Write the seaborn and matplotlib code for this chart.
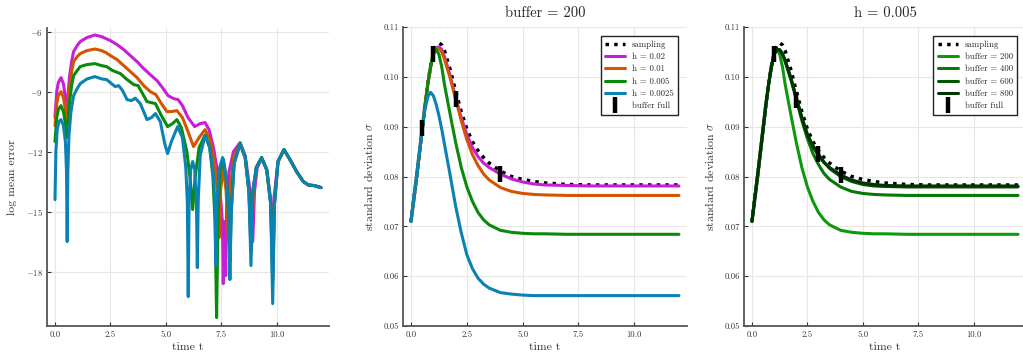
import numpy as np
import pandas as pd
import seaborn as sns
import matplotlib.pyplot as plt

# ---------------- left panel: log mean error ----------------
t_mag = [0.0, 0.08, 0.15, 0.27, 0.38, 0.47, 0.53, 0.58, 0.65, 0.75, 0.84, 1.0, 1.14, 1.44, 1.8, 2.1,
         2.5, 2.8, 3.1, 3.4, 3.7, 4.0, 4.3, 4.6, 4.85, 5.1, 5.35, 5.55, 5.75, 6.0, 6.3, 6.55, 6.77,
         6.95, 7.15, 7.3, 7.45, 7.55, 7.59, 7.63, 7.67, 7.7, 7.74, 7.85, 8.05, 8.35, 8.58, 8.78,
         8.92, 9.0, 9.12, 9.32, 9.55, 9.72, 9.8, 9.88, 10.06, 10.33, 10.6, 10.9, 11.2, 11.43, 11.7, 12.0]
err_mag = [-10.3, -9.0, -8.55, -8.3, -8.6, -9.3, -10.0, -9.3, -8.3, -7.5, -7.0, -6.7, -6.5, -6.3, -6.17, -6.25,
           -6.45, -6.65, -6.9, -7.2, -7.5, -7.85, -8.15, -8.45, -8.8, -9.2, -9.35, -9.4, -9.7, -10.3, -10.75, -10.6, -10.55,
           -10.9, -11.8, -12.8, -14.0, -15.5, -18.6, -15.5, -15.5, -18.2, -15.0, -13.0, -12.0, -11.55, -12.2, -13.8,
           -16.5, -14.0, -12.8, -12.35, -12.9, -14.3, -16.5, -14.3, -12.5, -11.9, -12.4, -13.0, -13.5, -13.67, -13.7, -13.8]

t_ora = [0.0, 0.08, 0.15, 0.27, 0.38, 0.47, 0.53, 0.58, 0.65, 0.75, 0.84, 1.0, 1.14, 1.44, 1.8, 2.1,
         2.3, 2.5, 2.8, 3.1, 3.4, 3.7, 4.0, 4.3, 4.55, 4.8, 5.05, 5.25, 5.5, 5.75, 6.0, 6.25, 6.5, 6.77,
         7.0, 7.2, 7.33, 7.4, 7.46, 7.6, 7.72, 7.82, 7.9, 8.05, 8.35, 8.58, 8.75, 8.86, 8.95, 9.08, 9.32,
         9.55, 9.73, 9.82, 9.9, 10.06, 10.33, 10.6, 10.9, 11.2, 11.43, 11.7, 12.0]
err_ora = [-10.7, -9.6, -9.2, -9.0, -9.3, -9.9, -10.6, -9.9, -8.9, -8.0, -7.5, -7.25, -7.1, -6.95, -6.87, -6.95,
           -7.05, -7.2, -7.4, -7.7, -8.0, -8.3, -8.7, -9.0, -9.15, -9.6, -10.0, -10.0, -9.95, -10.3, -11.0, -11.75, -11.3, -10.9,
           -11.4, -12.6, -14.0, -16.3, -14.0, -12.8, -14.0, -16.5, -14.0, -12.3, -11.6, -12.3, -14.0, -17.0, -14.0, -12.8, -12.3,
           -12.9, -14.6, -18.0, -14.6, -12.5, -11.9, -12.4, -13.0, -13.5, -13.67, -13.7, -13.8]

t_gre = [0.0, 0.08, 0.15, 0.27, 0.38, 0.47, 0.53, 0.58, 0.65, 0.75, 0.84, 1.0, 1.14, 1.44, 1.8, 2.1,
         2.33, 2.6, 2.95, 3.2, 3.55, 3.75, 4.15, 4.53, 4.8, 5.08, 5.3, 5.5, 5.7, 5.95, 6.1, 6.21, 6.32,
         6.5, 6.77, 6.98, 7.12, 7.22, 7.29, 7.36, 7.45, 7.6, 7.75, 7.84, 7.89, 7.95, 8.08, 8.35, 8.58,
         8.75, 8.84, 8.92, 9.08, 9.32, 9.55, 9.73, 9.82, 9.9, 10.06, 10.33, 10.6, 10.9, 11.2, 11.43, 11.7, 12.0]
err_gre = [-11.5, -10.3, -9.9, -9.7, -10.0, -10.6, -11.3, -10.6, -9.6, -8.7, -8.2, -7.95, -7.75, -7.65, -7.6, -7.7,
           -7.75, -7.95, -8.1, -8.35, -8.65, -8.7, -9.5, -9.6, -10.2, -10.75, -10.6, -10.4, -10.8, -12.0, -13.4, -14.9, -13.3,
           -11.8, -11.17, -11.8, -13.2, -15.5, -20.3, -15.0, -13.0, -12.4, -13.5, -15.5, -17.5, -15.0, -12.6, -11.6, -12.3,
           -14.0, -17.0, -14.0, -12.8, -12.3, -12.9, -14.6, -18.5, -14.6, -12.5, -11.9, -12.4, -13.0, -13.5, -13.67, -13.7, -13.8]

t_blu = [0.0, 0.04, 0.1, 0.18, 0.27, 0.38, 0.47, 0.52, 0.55, 0.58, 0.63, 0.72, 0.84, 1.0, 1.14, 1.44,
         1.79, 2.12, 2.33, 2.55, 2.72, 2.87, 3.05, 3.25, 3.45, 3.62, 3.85, 4.15, 4.35, 4.53, 4.75, 4.95,
         5.08, 5.25, 5.53, 5.75, 5.9, 5.97, 6.01, 6.05, 6.12, 6.21, 6.3, 6.38, 6.42, 6.46, 6.55, 6.77,
         6.98, 7.15, 7.22, 7.26, 7.3, 7.4, 7.56, 7.72, 7.83, 7.89, 7.95, 8.08, 8.35, 8.58, 8.75, 8.84,
         8.92, 9.08, 9.32, 9.55, 9.73, 9.82, 9.9, 10.06, 10.33, 10.6, 10.9, 11.2, 11.43, 11.7, 12.0]
err_blu = [-14.4, -12.0, -10.9, -10.5, -10.4, -10.7, -11.5, -13.0, -16.5, -13.0, -11.2, -10.0, -9.2, -8.85, -8.6, -8.37,
           -8.25, -8.37, -8.4, -8.6, -8.75, -8.7, -8.95, -9.4, -9.45, -9.33, -9.6, -10.4, -10.3, -10.1, -10.5, -11.6,
           -12.1, -11.5, -10.75, -11.3, -12.8, -14.5, -19.25, -14.5, -12.9, -12.5, -12.9, -14.5, -17.8, -14.5, -12.2, -11.2,
           -11.8, -13.2, -14.8, -17.7, -14.8, -12.9, -12.3, -13.3, -15.0, -18.4, -15.0, -12.6, -11.6, -12.3, -14.0, -17.7,
           -14.0, -12.8, -12.3, -12.9, -14.6, -19.6, -14.6, -12.5, -11.9, -12.4, -13.0, -13.5, -13.67, -13.7, -13.8]

# ---------------- middle / right panels: standard deviation ----------------
t_sd = [0, 0.25, 0.5, 0.625, 0.75, 0.875, 1.0, 1.125, 1.25, 1.375, 1.5, 1.75, 2.0, 2.25, 2.5, 2.75,
        3.0, 3.25, 3.5, 4.0, 4.5, 5.0, 5.5, 6.0, 7.0, 8.0, 10.0, 12.0]
sd_sampling = [0.0710, 0.0800, 0.0895, 0.0943, 0.0986, 0.1022, 0.1048, 0.1063, 0.1068, 0.1064, 0.1052, 0.1015,
               0.0971, 0.0930, 0.0895, 0.0870, 0.0852, 0.0838, 0.0827, 0.0811, 0.0800, 0.0794, 0.0790, 0.0787,
               0.0784, 0.0783, 0.0783, 0.0783]
sd_h002 = [0.0710, 0.0800, 0.0895, 0.0943, 0.0985, 0.1020, 0.1045, 0.1058, 0.1060, 0.1055, 0.1040, 0.1003,
           0.0958, 0.0918, 0.0884, 0.0858, 0.0840, 0.0827, 0.0818, 0.0805, 0.0795, 0.0789, 0.0785, 0.0783,
           0.0782, 0.0781, 0.0781, 0.0781]
sd_h001 = [0.0710, 0.0800, 0.0895, 0.0943, 0.0985, 0.1020, 0.1045, 0.1056, 0.1057, 0.1050, 0.1035, 0.0998,
           0.0955, 0.0912, 0.0874, 0.0844, 0.0822, 0.0805, 0.0793, 0.0778, 0.0770, 0.0766, 0.0764, 0.0763,
           0.0762, 0.0762, 0.0762, 0.0762]
sd_h0005 = [0.0710, 0.0800, 0.0895, 0.0943, 0.0985, 0.1020, 0.1046, 0.1055, 0.1045, 0.1020, 0.0984, 0.0925,
            0.0868, 0.0818, 0.0779, 0.0750, 0.0728, 0.0713, 0.0703, 0.0692, 0.0688, 0.0686, 0.0685, 0.0685,
            0.0684, 0.0684, 0.0684, 0.0684]
sd_h00025 = [0.0710, 0.0800, 0.0895, 0.0935, 0.0960, 0.0969, 0.0962, 0.0945, 0.0922, 0.0895, 0.0864, 0.0803,
             0.0740, 0.0687, 0.0643, 0.0615, 0.0596, 0.0584, 0.0576, 0.0567, 0.0564, 0.0562, 0.0561, 0.0561,
             0.0561, 0.0561, 0.0561, 0.0561]
sd_b400 = [0.0710, 0.0800, 0.0895, 0.0943, 0.0985, 0.1020, 0.1046, 0.1055, 0.1054, 0.1045, 0.1030, 0.0995,
           0.0954, 0.0912, 0.0876, 0.0846, 0.0824, 0.0806, 0.0794, 0.0779, 0.0770, 0.0766, 0.0764, 0.0763,
           0.0762, 0.0762, 0.0762, 0.0762]
sd_b600 = [0.0710, 0.0800, 0.0895, 0.0943, 0.0985, 0.1020, 0.1046, 0.1055, 0.1054, 0.1046, 0.1032, 0.0998,
           0.0958, 0.0918, 0.0884, 0.0862, 0.0845, 0.0829, 0.0816, 0.0800, 0.0790, 0.0784, 0.0781, 0.0780,
           0.0779, 0.0779, 0.0779, 0.0779]
sd_b800 = [0.0710, 0.0800, 0.0895, 0.0943, 0.0985, 0.1020, 0.1046, 0.1055, 0.1054, 0.1046, 0.1032, 0.0998,
           0.0958, 0.0918, 0.0884, 0.0860, 0.0842, 0.0828, 0.0818, 0.0803, 0.0793, 0.0787, 0.0784, 0.0782,
           0.0781, 0.0781, 0.0781, 0.0781]

# buffer full markers (time, sigma)
full_t_mid = [0.5, 1.0, 2.0, 4.0]
full_sd_mid = [0.0897, 0.1046, 0.0956, 0.0805]
full_t_right = [1.0, 2.0, 3.0, 4.0]
full_sd_right = [0.1046, 0.0954, 0.0845, 0.0803]

h_labels = ["h = 0.02", "h = 0.01", "h = 0.005", "h = 0.0025"]
b_labels = ["buffer = 200", "buffer = 400", "buffer = 600", "buffer = 800"]

c_mag, c_ora, c_gre, c_blu = "#c81ed8", "#d45500", "#0a8a0a", "#0a82b4"
greens = ["#0c9a0c", "#067806", "#045404", "#023402"]

# ---------------- style ----------------
sns.set_style("ticks")
plt.rcParams["font.family"] = ["cmr10", "DejaVu Serif"]
plt.rcParams["mathtext.fontset"] = "cm"
plt.rcParams["axes.formatter.use_mathtext"] = True
plt.rcParams["axes.unicode_minus"] = True

fig = plt.figure(figsize=(10.23, 3.56), dpi=100)
ax1 = fig.add_axes([47 / 1023, 30 / 356, 282 / 1023, 298 / 356])
ax2 = fig.add_axes([403 / 1023, 30 / 356, 284 / 1023, 299 / 356])
ax3 = fig.add_axes([744 / 1023, 30 / 356, 282 / 1023, 299 / 356])

lw = 2.2


def style_axes(ax):
    ax.set_xlim(-0.36, 12.36)
    ax.grid(True, color="#e6e6e6", lw=0.8)
    ax.set_axisbelow(True)
    sns.despine(ax=ax)
    for s in ["left", "bottom"]:
        ax.spines[s].set_color("#555555")
        ax.spines[s].set_linewidth(1.3)
    ax.tick_params(direction="in", length=3, width=0.8, color="#333333", labelsize=6.3,
                   labelcolor="#333333", pad=3)
    ax.set_xticks([0, 2.5, 5, 7.5, 10])
    ax.set_xticklabels(["0.0", "2.5", "5.0", "7.5", "10.0"])
    ax.set_xlabel("time t", fontsize=8.5, color="#333333", labelpad=3)


# left
for tt, ee, cc in [(t_mag, err_mag, c_mag), (t_ora, err_ora, c_ora), (t_gre, err_gre, c_gre), (t_blu, err_blu, c_blu)]:
    sns.lineplot(x=tt, y=ee, ax=ax1, color=cc, lw=lw, sort=False, estimator=None)
style_axes(ax1)
ax1.set_ylim(-20.72, -5.82)
ax1.set_yticks([-18, -15, -12, -9, -6])
ax1.set_yticklabels(["$-18$", "$-15$", "$-12$", "$-9$", "$-6$"])
ax1.set_ylabel("log mean error", fontsize=8.5, color="#333333", labelpad=6)


def sd_panel(ax, curves, colors, labels, ft, fsd, title):
    sns.lineplot(x=t_sd, y=sd_sampling, ax=ax, color="black", lw=2.5, dashes=False, label="sampling",
                 estimator=None)
    ax.lines[-1].set_dashes([1, 1.5])
    for yy, cc, lab in zip(curves, colors, labels):
        sns.lineplot(x=t_sd, y=yy, ax=ax, color=cc, lw=lw, label=lab, estimator=None)
    ax.plot(ft, fsd, ls="none", marker="|", ms=12, mew=3.2, color="black", label="buffer full", zorder=6)
    style_axes(ax)
    ax.set_ylim(0.05, 0.11)
    ax.set_yticks([0.05, 0.06, 0.07, 0.08, 0.09, 0.10, 0.11])
    ax.set_yticklabels(["0.05", "0.06", "0.07", "0.08", "0.09", "0.10", "0.11"])
    ax.set_ylabel(r"standard deviation $\sigma$", fontsize=8.5, color="#333333", labelpad=6)
    ax.set_title(title, fontsize=10.5, pad=7)
    leg = ax.legend(loc="upper right", fontsize=6.3, fancybox=False, framealpha=1, edgecolor="#222222",
                    handlelength=2.3, borderpad=0.5, labelspacing=0.45, handletextpad=0.8,
                    bbox_to_anchor=(0.985, 0.985))
    leg.get_frame().set_linewidth(1.0)


sd_panel(ax2, [sd_h002, sd_h001, sd_h0005, sd_h00025], [c_mag, c_ora, c_gre, c_blu], h_labels,
         full_t_mid, full_sd_mid, "buffer = 200")
sd_panel(ax3, [sd_h0005, sd_b400, sd_b600, sd_b800], greens, b_labels,
         full_t_right, full_sd_right, "h = 0.005")

fig.savefig("out.png", dpi=100)
